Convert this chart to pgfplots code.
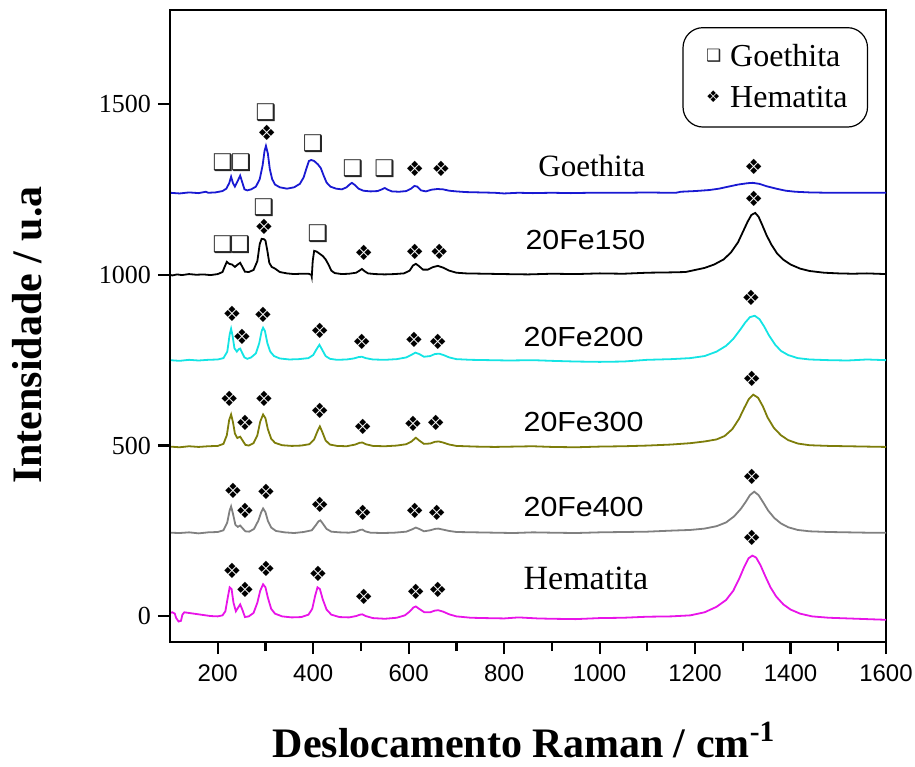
\documentclass[border=0pt]{standalone}
\usepackage{fontspec}
\setmainfont{Liberation Serif}
\newfontfamily\arial{Liberation Sans}
\newfontfamily\widesans[FakeStretch=1.1]{Liberation Sans}
\newfontfamily\dejavu{DejaVu Sans}
\usepackage{pgfplots}
\pgfplotsset{compat=1.18}
\definecolor{cBlue}{RGB}{25,25,210}
\definecolor{cCyan}{RGB}{20,228,228}
\definecolor{cOlive}{RGB}{125,125,10}
\definecolor{cGrey}{RGB}{128,128,128}
\definecolor{cMag}{RGB}{232,20,232}
\begin{document}
\begin{tikzpicture}
\path[use as bounding box] (-85pt,-62pt) rectangle (372.5pt,321pt);
\begin{axis}[
  at={(0pt,0pt)}, anchor=south west,
  scale only axis, width=358pt, height=316pt,
  xmin=100, xmax=1600, ymin=-75, ymax=1775,
  xtick={200,400,...,1600}, minor x tick num=1,
  ytick={0,500,1000,1500},
  tick align=outside, xtick pos=bottom, ytick pos=left,
  major tick length=6pt, minor tick length=4.5pt,
  every tick/.style={black, line width=1.1pt},
  axis line style={black, line width=0.6pt},
  /pgf/number format/assume math mode=true,
  /pgf/number format/set thousands separator={},
  xticklabel style={font=\arial\fontsize{12}{12}\selectfont, yshift=-2pt},
  yticklabel style={font=\fontsize{13}{13}\selectfont},
  legend cell align=left,
  legend style={at={(rel axis cs:0.975,0.973)}, anchor=north east, draw=black, line width=0.6pt,
    rounded corners=10pt, font=\fontsize{16}{18}\selectfont, inner xsep=8pt, inner ysep=6.5pt,
    row sep=4pt},
]
% Goethita (blue)
\addplot[cBlue, line width=0.9pt, forget plot] coordinates {
(100,1240)(120,1238)(140,1241)(160,1239)(175,1243)(180,1240)(195,1241)(210,1245)(218,1252)(224,1268)(228,1287)(232,1268)(236,1258)(241,1272)(247,1290)(252,1268)(256,1250)(262,1247)(270,1250)(280,1258)(288,1280)(294,1320)(298,1362)(301,1377)(305,1355)(309,1310)(314,1280)(320,1264)(330,1256)(345,1252)(360,1256)(372,1266)(380,1285)(386,1312)(391,1333)(396,1336)(402,1333)(410,1323)(416,1312)(422,1290)(428,1270)(436,1258)(448,1252)(460,1250)(470,1256)(476,1264)(481,1269)(487,1263)(495,1252)(505,1246)(520,1244)(535,1245)(544,1250)(550,1254)(556,1249)(565,1244)(580,1243)(595,1245)(605,1252)(612,1260)(618,1258)(626,1247)(636,1244)(648,1249)(660,1251)(672,1250)(685,1246)(700,1244)(720,1242)(750,1241)(780,1240)(800,1238)(830,1240)(860,1239)(900,1240)(940,1239)(980,1240)(1020,1240)(1060,1240)(1100,1241)(1140,1240)(1160,1240)(1170,1243)(1200,1245)(1230,1248)(1250,1252)(1270,1258)(1290,1264)(1310,1268)(1321,1269)(1335,1266)(1350,1259)(1370,1252)(1390,1246)(1410,1243)(1440,1241)(1480,1240)(1520,1240)(1560,1240)(1600,1240)
};
% 20Fe150 (black)
\addplot[black, line width=0.9pt, forget plot] coordinates {
(100,1000)(105,998)(115,1001)(125,999)(140,1002)(155,1000)(170,1001)(185,999)(200,1002)(210,1008)(215,1025)(219,1038)(224,1032)(230,1030)(236,1023)(242,1030)(247,1035)(252,1022)(257,1009)(265,1008)(275,1014)(283,1040)(288,1090)(292,1105)(297,1104)(300,1100)(304,1070)(308,1035)(313,1023)(320,1018)(330,1008)(345,1004)(360,1002)(375,1003)(390,1003)(396,1000)(397,994)(399,1040)(402,1070)(407,1068)(414,1061)(420,1055)(426,1045)(432,1030)(438,1012)(445,1005)(460,1002)(475,1003)(490,1006)(497,1012)(502,1017)(508,1010)(515,1004)(530,1002)(550,1001)(570,1002)(590,1004)(602,1012)(609,1027)(615,1032)(621,1026)(630,1015)(640,1015)(650,1022)(661,1026)(672,1021)(685,1012)(700,1006)(720,1004)(760,1003)(800,1002)(850,1001)(900,1003)(950,1002)(1000,1004)(1050,1003)(1100,1006)(1150,1007)(1180,1008)(1200,1014)(1220,1020)(1240,1030)(1260,1045)(1275,1065)(1290,1095)(1300,1125)(1310,1155)(1318,1175)(1326,1181)(1333,1170)(1340,1148)(1350,1115)(1360,1088)(1372,1062)(1385,1044)(1400,1030)(1420,1018)(1440,1011)(1470,1006)(1500,1004)(1530,1003)(1560,1004)(1600,1002)
};
% 20Fe200 (cyan)
\addplot[cCyan, line width=0.9pt, forget plot] coordinates {
(100,750)(120,748)(140,751)(160,749)(180,751)(200,752)(212,756)(220,775)(225,825)(228,842)(231,822)(235,785)(240,775)(244,782)(247,784)(251,772)(256,758)(262,754)(270,758)(280,770)(287,800)(292,835)(295,845)(299,835)(304,800)(310,775)(318,762)(330,755)(350,752)(370,753)(390,756)(400,765)(407,782)(413,795)(419,780)(426,762)(435,754)(450,751)(470,752)(485,755)(495,759)(502,760)(510,756)(525,752)(550,751)(575,753)(595,758)(605,765)(614,772)(622,768)(632,760)(645,762)(655,768)(664,769)(673,765)(685,758)(700,753)(730,751)(770,750)(810,749)(860,750)(900,748)(950,746)(1000,745)(1050,746)(1100,751)(1150,753)(1190,756)(1220,762)(1245,775)(1265,792)(1280,812)(1295,840)(1305,860)(1315,876)(1325,880)(1335,870)(1345,848)(1355,822)(1368,795)(1380,777)(1395,765)(1415,756)(1440,752)(1480,750)(1520,749)(1560,752)(1600,750)
};
% 20Fe300 (olive)
\addplot[cOlive, line width=0.9pt, forget plot] coordinates {
(100,497)(120,495)(140,498)(160,496)(180,498)(200,499)(212,505)(219,530)(224,575)(228,591)(232,568)(236,535)(241,522)(247,526)(252,515)(258,502)(265,500)(275,507)(283,530)(289,570)(295,591)(300,580)(305,548)(312,520)(320,508)(335,501)(355,499)(375,500)(392,504)(402,518)(409,542)(414,556)(419,540)(426,515)(435,503)(450,499)(470,498)(488,503)(497,508)(503,509)(510,504)(525,499)(550,498)(575,500)(595,504)(606,512)(615,523)(622,515)(632,505)(645,506)(655,511)(663,512)(672,509)(685,503)(700,499)(740,497)(780,496)(820,497)(860,498)(900,496)(950,495)(1000,497)(1050,498)(1100,500)(1150,503)(1190,507)(1220,512)(1245,518)(1262,528)(1278,548)(1292,578)(1303,610)(1313,637)(1322,649)(1332,640)(1342,615)(1352,582)(1365,552)(1380,530)(1395,516)(1415,506)(1440,501)(1480,499)(1520,498)(1560,497)(1600,496)
};
% 20Fe400 (grey)
\addplot[cGrey, line width=0.9pt, forget plot] coordinates {
(100,245)(120,244)(140,246)(160,243)(180,246)(200,247)(212,252)(220,275)(225,310)(228,322)(232,300)(237,268)(242,262)(247,266)(252,258)(258,249)(266,248)(276,256)(285,280)(291,305)(295,316)(300,305)(305,280)(312,260)(322,250)(340,246)(360,244)(380,247)(397,252)(405,266)(411,278)(415,281)(420,272)(428,256)(438,248)(455,246)(475,245)(490,248)(498,253)(503,254)(509,249)(520,245)(545,244)(570,245)(595,248)(606,254)(615,260)(622,256)(632,249)(645,252)(655,256)(662,257)(672,254)(685,250)(700,247)(740,246)(780,245)(820,244)(860,246)(900,245)(950,244)(1000,246)(1050,247)(1100,248)(1150,251)(1190,253)(1220,257)(1245,264)(1265,275)(1282,293)(1296,315)(1306,335)(1315,355)(1324,365)(1333,355)(1343,333)(1353,310)(1366,288)(1380,272)(1395,261)(1415,253)(1440,249)(1480,247)(1520,246)(1560,245)(1600,245)
};
% Hematita (magenta)
\addplot[cMag, line width=0.9pt, forget plot] coordinates {
(100,10)(105,12)(110,8)(113,-5)(118,-15)(123,-13)(126,5)(130,12)(140,10)(155,7)(170,4)(185,1)(200,0)(210,3)(216,15)(221,55)(225,85)(229,80)(233,40)(238,15)(242,24)(247,35)(252,18)(257,-2)(265,0)(275,10)(283,40)(289,75)(295,94)(300,85)(305,55)(312,22)(320,8)(335,0)(355,-3)(375,-2)(390,5)(398,22)(404,60)(409,85)(414,80)(420,50)(428,20)(438,5)(455,-2)(475,-3)(490,1)(498,5)(503,6)(510,1)(525,-5)(550,-7)(575,-4)(592,3)(602,14)(610,26)(615,29)(622,22)(633,12)(645,12)(655,17)(662,18)(672,14)(685,6)(700,0)(730,-4)(760,-5)(800,-6)(830,-3)(870,-6)(900,-7)(950,-8)(1000,-5)(1050,-4)(1100,-1)(1150,0)(1190,3)(1220,12)(1245,28)(1265,48)(1280,75)(1293,112)(1303,145)(1312,170)(1320,178)(1328,172)(1337,150)(1347,118)(1358,85)(1370,58)(1385,35)(1400,20)(1420,8)(1445,0)(1480,-4)(1520,-6)(1560,-8)(1600,-10)
};
% Goethita band markers
\addplot[only marks, black!85, mark=text, text mark={❑}, text mark as node=true,
  text mark style={font=\dejavu\fontsize{11.5}{11.5}\selectfont, inner sep=0pt},
  legend image code/.code={\path (-3pt,0pt) (10pt,0pt); \node[inner sep=0pt, font=\dejavu\fontsize{8.5}{8.5}\selectfont] at (0pt,0pt) {❑};}]
coordinates {
(211,1327)(249,1327)(301,1474)(400,1383)(483,1310)(550,1310)
(211,1088)(247,1088)(297,1196)(410,1120)
};
\addlegendentry{Goethita}
% Hematita band markers
\addplot[only marks, black, mark=text, text mark={❖}, text mark as node=true,
  text mark style={font=\dejavu\fontsize{10.5}{10.5}\selectfont, inner sep=0pt},
  legend image code/.code={\path (-3pt,0pt) (10pt,0pt); \node[inner sep=0pt, font=\dejavu\fontsize{8}{8}\selectfont] at (0pt,0pt) {❖};}]
coordinates {
(303,1415)(613,1310)(668,1310)(1323,1316)
(297,1140)(506,1064)(613,1067)(664,1067)(1323,1222)
(230,886)(251,819)(295,883)(414,836)(502,804)(611,810)(661,804)(1317,933)
(224,637)(257,567)(297,637)(414,602)(504,556)(609,564)(657,567)(1319,696)
(232,366)(257,310)(301,363)(414,327)(504,304)(613,310)(659,304)(1319,409)
(230,132)(257,79)(301,140)(410,123)(506,58)(615,73)(661,79)(1319,231)
};
\addlegendentry{Hematita}
% sample names
\node[anchor=base west, inner sep=0pt, font=\fontsize{15.5}{16}\selectfont] at (axis cs:871,1287) {Goethita};
\node[anchor=base west, inner sep=0pt, font=\widesans\fontsize{13.8}{14}\selectfont] at (axis cs:844,1073) {20Fe150};
\node[anchor=base west, inner sep=0pt, font=\widesans\fontsize{13.8}{14}\selectfont] at (axis cs:840,789) {20Fe200};
\node[anchor=base west, inner sep=0pt, font=\widesans\fontsize{13.8}{14}\selectfont] at (axis cs:840,541) {20Fe300};
\node[anchor=base west, inner sep=0pt, font=\widesans\fontsize{13.8}{14}\selectfont] at (axis cs:840,292) {20Fe400};
\node[anchor=base west, inner sep=0pt, font=\fontsize{17}{18}\selectfont] at (axis cs:840,79) {Hematita};
% heavier left and bottom spines
\draw[black, line width=1.5pt] (rel axis cs:0,1) -- (rel axis cs:0,0) -- (rel axis cs:1,0);
\end{axis}
\node[anchor=base, font=\bfseries\fontsize{21}{24}\selectfont] at (177pt,-57.5pt) {Deslocamento Raman / cm\textsuperscript{-1}};
\node[anchor=base, rotate=90, font=\bfseries\fontsize{21}{24}\selectfont] at (-64pt,153.5pt) {Intensidade / u.a};
\end{tikzpicture}
\end{document}
